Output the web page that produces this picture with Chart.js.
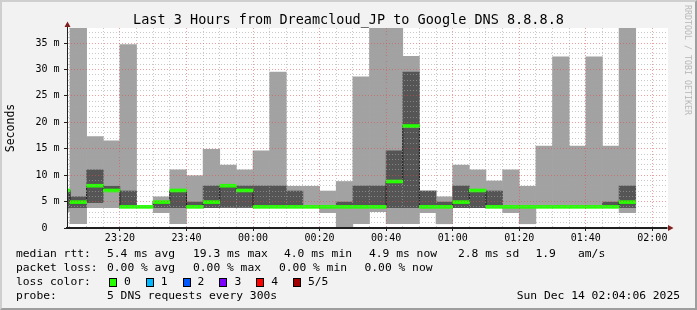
<!DOCTYPE html>
<html>
<head>
<meta charset="utf-8">
<script src="https://cdn.jsdelivr.net/npm/chart.js@4.4.0/dist/chart.umd.min.js"></script>
<style>
  html, body { margin: 0; padding: 0; }
  #wrap { position: relative; width: 697px; height: 310px; background: #f2f2f2; overflow: hidden;
          font-family: 'DejaVu Sans Mono', monospace; }
  canvas { position: absolute; left: 0; top: 0; }
  #frame { position: absolute; left: 0; top: 0; width: 697px; height: 310px; box-sizing: border-box;
           border-top: 2px solid #cfcfcf; border-left: 2px solid #cfcfcf;
           border-right: 2px solid #9e9e9e; border-bottom: 2px solid #9e9e9e; pointer-events: none; }
  .txt { position: absolute; font-size: 11.3px; line-height: 14px; white-space: pre; color: #000; }
  .box { position: absolute; width: 6px; height: 7px; border: 1px solid #000; }
  #credit { position: absolute; left: 693px; top: 5px; transform-origin: 0 0; transform: rotate(90deg);
            font-size: 8.3px; line-height: 10px; color: #b8b8b8; white-space: pre; }
</style>
</head>
<body>
<div id="wrap">
  <canvas id="smoke" width="697" height="310"></canvas>
  <div id="credit">RRDTOOL / TOBI OETIKER</div>
  <div id="legend"></div>
  <div id="frame"></div>
</div>
<script>
// 5 minute slots (start time), values in ms
var slotStart = ["23:00","23:05","23:10","23:15","23:20","23:25","23:30","23:35","23:40","23:45",
                 "23:50","23:55","00:00","00:05","00:10","00:15","00:20","00:25","00:30","00:35",
                 "00:40","00:45","00:50","00:55","01:00","01:05","01:10","01:15","01:20","01:25",
                 "01:30","01:35","01:40","01:45","01:50"];
var rttMin    = [3.1,0.8,3.85,3.85,3.85,3.95,2.9,0.8,3.85,3.85, 3.85,3.85,3.85,3.85,3.85,3.85,2.9,0.1,0.8,3.1,
                 0.8,0.8,2.9,0.8,3.85,3.85,3.85,2.9,0.8,3.85, 3.85,3.85,3.85,3.85,2.9];
var rttLow    = [3.8,3.85,4.8,7.0,3.9,4.0,3.85,3.85,3.9,3.85, 3.9,3.9,3.85,3.85,3.85,3.9,3.9,3.85,3.85,3.85,
                 3.85,3.85,3.85,3.85,3.85,3.85,3.85,3.9,3.9,3.9, 3.9,3.9,3.9,3.9,3.85];
var rttMedian = [7.1,4.9,8.0,7.1,4.0,4.0,4.9,7.1,4.0,4.9, 8.0,7.1,4.0,4.0,4.0,4.0,4.0,4.0,4.0,4.0,
                 8.8,19.3,4.0,4.0,4.9,7.1,4.0,4.0,4.0,4.0, 4.0,4.0,4.0,4.0,4.9];
var rttHigh   = [7.2,5.9,11.0,7.9,7.0,4.0,5.0,7.1,4.9,7.95, 7.95,7.95,7.95,7.95,7.0,4.1,4.1,4.9,7.95,7.95,
                 14.6,29.5,7.0,4.9,7.95,7.1,7.0,4.1,4.1,4.1, 4.1,4.1,4.1,4.9,7.95];
var rttMax    = [7.3,42,17.3,16.5,34.7,4.05,5.9,11.0,9.9,14.9, 11.9,11.0,14.6,29.5,7.9,7.9,7.0,8.8,28.6,42,
                 42,32.5,7.0,5.9,11.9,11.0,8.9,11.0,7.9,15.5, 32.4,15.5,32.4,15.5,42];
var xTickLabels = ["23:20","23:40","00:00","00:20","00:40","01:00","01:20","01:40","02:00"];
var windowStart = "23:04:06", windowEnd = "02:04:06";
var lossLabels = ["0","1","2","3","4","5/5"];
var lossColors = ["#26ff00","#00b8ff","#0059ff","#7e00ff","#ff0000","#a10000"];

function toMinutes(t)
{
  var p = t.split(":");
  var h = parseInt(p[0], 10);
  if (h < 12) h += 24;
  return (h - 23) * 60 + parseInt(p[1], 10) + (p[2] ? parseInt(p[2], 10) / 60 : 0);
}

var band = 0.28; // half thickness of the median line, ms
var centers = slotStart.map(function (s) { return toMinutes(s) + 2.5; });
function ranges(lo, hi) { return centers.map(function (c, i) { return { x: c, y: [lo[i], hi[i]] }; }); }

var outerSmoke = ranges(rttMin, rttMax);
var innerSmoke = ranges(rttLow, rttHigh);
var medianBar = centers.map(function (c, i) { return { x: c, y: [rttMedian[i] - band, rttMedian[i] + band] }; });
var medianStep = centers.map(function (c, i) { return { x: c, y: rttMedian[i] }; });

var barStyle = { grouped: false, categoryPercentage: 1, barPercentage: 1, borderWidth: 0, borderSkipped: false, clip: 0 };

// grid ticks: every 5 minutes / every 1 ms
function stepTicks(from, to, step)
{
  var out = [];
  for (var v = Math.ceil(from / step) * step; v <= to + 1e-9; v += step) out.push({ value: v });
  return out;
}

var canvasPlugin = {
  id: 'canvasBg',
  beforeDraw: function (chart) {
    var a = chart.chartArea, ctx = chart.ctx;
    ctx.save();
    ctx.fillStyle = '#ffffff';
    ctx.fillRect(a.left, a.top, a.right - a.left + 2, a.bottom - a.top);
    ctx.restore();
  },
  afterDraw: function (chart) {
    var a = chart.chartArea, ctx = chart.ctx;
    ctx.save();
    ctx.strokeStyle = '#1f1f1f';
    ctx.lineWidth = 1;
    ctx.beginPath();
    ctx.moveTo(a.left + 0.5, a.top); ctx.lineTo(a.left + 0.5, a.top - 1);
    ctx.moveTo(a.right, a.bottom); ctx.lineTo(a.right + 2, a.bottom);
    ctx.stroke();
    ctx.fillStyle = '#801f1f';
    ctx.beginPath();
    ctx.moveTo(a.left - 2.5, a.top - 1); ctx.lineTo(a.left + 3.5, a.top - 1); ctx.lineTo(a.left + 0.5, a.top - 6.5);
    ctx.closePath(); ctx.fill();
    ctx.beginPath();
    ctx.moveTo(a.right + 2, a.bottom - 3); ctx.lineTo(a.right + 2, a.bottom + 3); ctx.lineTo(a.right + 7.5, a.bottom);
    ctx.closePath(); ctx.fill();
    ctx.restore();
  }
};

Chart.defaults.font.family = "'DejaVu Sans Mono', monospace";
Chart.defaults.color = '#000';

var minorGrid = 'rgba(165,165,165,0.6)';
var majorGrid = 'rgba(222,79,79,0.55)';

window.onload = function ()
{
  var ctx = document.getElementById('smoke').getContext('2d');
  new Chart(ctx, {
    type: 'bar',
    data: {
      datasets: [
        Object.assign({ label: 'median', data: medianBar, backgroundColor: '#26ff00', order: 0 }, barStyle),
        { type: 'line', label: 'step', data: medianStep, stepped: 'middle', borderColor: '#1f1f1f',
          borderWidth: 1, pointRadius: 0, fill: false, clip: 0, order: 1 },
        Object.assign({ label: 'inner', data: innerSmoke, backgroundColor: '#555555', order: 2 }, barStyle),
        Object.assign({ label: 'outer', data: outerSmoke, backgroundColor: '#a2a2a2', order: 3 }, barStyle)
      ]
    },
    options: {
      responsive: false,
      animation: false,
      layout: { padding: { left: 0, right: 0, top: 0, bottom: 62 } },
      plugins: {
        legend: { display: false },
        tooltip: { enabled: false },
        title: {
          display: true,
          text: 'Last 3 Hours from Dreamcloud_JP to Google DNS 8.8.8.8',
          font: { size: 13.5, weight: 'normal', lineHeight: 1 },
          color: '#000',
          padding: { top: 13.85, bottom: 0.65 }
        }
      },
      scales: {
        x: {
          type: 'linear',
          offset: false,
          min: toMinutes(windowStart),
          max: toMinutes(windowEnd),
          afterFit: function (s) { s.height = 20; },
          afterBuildTicks: function (s) { s.ticks = stepTicks(s.min, s.max, 5); },
          grid: {
            offset: false,
            z: 1,
            tickLength: 3,
            color: function (c) { return c.tick.value % 20 === 0 ? majorGrid : minorGrid; },
            tickColor: function (c) { return c.tick.value % 20 === 0 ? '#1f1f1f' : 'rgba(0,0,0,0)'; }
          },
          border: { color: '#1f1f1f', width: 2, dash: [1, 2], z: 2 },
          ticks: {
            autoSkip: false,
            maxRotation: 0,
            padding: 1,
            font: { size: 10 },
            color: '#000',
            callback: function (v) { return v % 20 === 0 ? (xTickLabels[v / 20 - 1] || '') : ''; }
          }
        },
        y: {
          min: 0,
          max: 37.84,
          afterFit: function (s) { s.width = 67; },
          afterBuildTicks: function (s) { s.ticks = stepTicks(s.min, s.max, 1); },
          title: { display: true, text: 'Seconds', font: { size: 11.5 }, color: '#000', padding: { top: 4, bottom: 0 } },
          grid: {
            z: 1,
            tickLength: 3,
            color: function (c) { return c.tick.value % 5 === 0 ? majorGrid : minorGrid; },
            tickColor: function (c) { return c.tick.value % 5 === 0 ? '#1f1f1f' : 'rgba(0,0,0,0)'; }
          },
          border: { color: '#1f1f1f', width: 1, dash: [1, 2], z: 2 },
          ticks: {
            autoSkip: false,
            padding: 4.5,
            font: { size: 10 },
            color: '#000',
            callback: function (v) { return v % 5 === 0 ? (v === 0 ? '0  ' : v + ' m') : ''; }
          }
        },
        // empty right margin (keeps the title centred on the whole image)
        margin: {
          type: 'linear',
          position: 'right',
          afterFit: function (s) { s.width = 31; },
          grid: { display: false, drawOnChartArea: false },
          border: { display: false },
          ticks: { display: false }
        }
      }
    },
    plugins: [canvasPlugin]
  });
};

// legend / statistics text
var legendLines = [
  [247, [[16, "median rtt:"], [107, "5.4 ms avg"], [193, "19.3 ms max"], [284, "4.0 ms min"],
         [369, "4.9 ms now"], [458, "2.8 ms sd"], [535.5, "1.9"], [578, "am/s"]]],
  [261, [[16, "packet loss:"], [107, "0.00 % avg"], [193, "0.00 % max"], [279, "0.00 % min"], [364.5, "0.00 % now"]]],
  [275, [[16, "loss color:"]]],
  [289, [[16, "probe:"], [107, "5 DNS requests every 300s"]]]
];
var html = '';
legendLines.forEach(function (line) {
  line[1].forEach(function (seg) {
    html += '<div class="txt" style="left:' + seg[0] + 'px;top:' + line[0] + 'px">' + seg[1] + '</div>';
  });
});
lossLabels.forEach(function (lab, i) {
  var bx = 109 + i * 36.8;
  html += '<div class="box" style="left:' + bx + 'px;top:277.5px;background:' + lossColors[i] + '"></div>';
  html += '<div class="txt" style="left:' + (bx + 15) + 'px;top:275px">' + lab + '</div>';
});
html += '<div class="txt" style="right:17px;top:289px">Sun Dec 14 02:04:06 2025</div>';
document.getElementById('legend').innerHTML = html;
</script>
</body>
</html>
